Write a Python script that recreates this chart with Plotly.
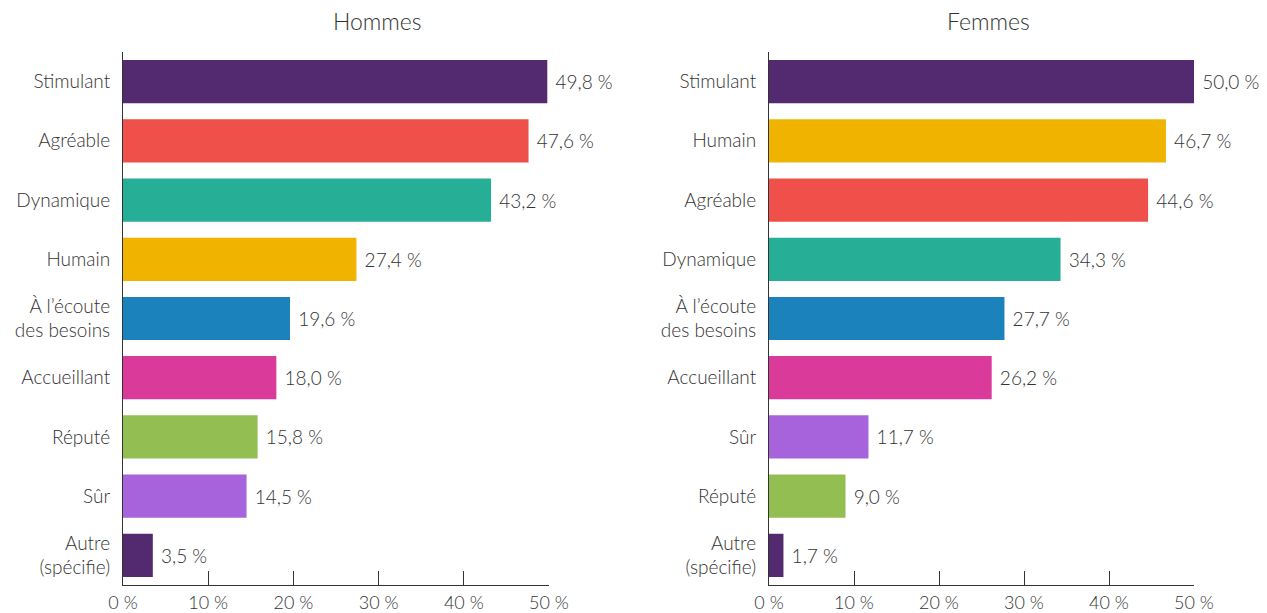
import plotly.graph_objects as go

hommes_cats = ["Stimulant", "Agréable", "Dynamique", "Humain", "À l’écoute<br>des besoins",
               "Accueillant", "Réputé", "Sûr", "Autre<br>(spécifie)"]
hommes_vals = [49.8, 47.6, 43.2, 27.4, 19.6, 18.0, 15.8, 14.5, 3.5]
femmes_cats = ["Stimulant", "Humain", "Agréable", "Dynamique", "À l’écoute<br>des besoins",
               "Accueillant", "Sûr", "Réputé", "Autre<br>(spécifie)"]
femmes_vals = [50.0, 46.7, 44.6, 34.3, 27.7, 26.2, 11.7, 9.0, 1.7]
x_ticks = [0, 10, 20, 30, 40, 50]
x_tick_labels = ["0 %", "10 %", "20 %", "30 %", "40 %", "50 %"]

color_map = {
    "Stimulant": "#532A6F",
    "Agréable": "#F0504A",
    "Dynamique": "#27AE96",
    "Humain": "#F0B400",
    "À l’écoute<br>des besoins": "#1C82BC",
    "Accueillant": "#DA3B9B",
    "Réputé": "#93BE52",
    "Sûr": "#A763DC",
    "Autre<br>(spécifie)": "#532A6F",
}

FONT = "Lato"
W = 300
TXT = "#333333"
FW, FH = 1259, 605   # page body has an 8px margin

def fmt(v):
    return "\u00a0" + f"{v:.1f}".replace(".", ",") + "\u00a0%"

fig = go.Figure()
for cats, vals, xa, ya in [(hommes_cats, hommes_vals, "x", "y"),
                           (femmes_cats, femmes_vals, "x2", "y2")]:
    fig.add_trace(go.Bar(
        x=vals, y=list(range(len(cats))), orientation="h",
        marker=dict(color=[color_map[c] for c in cats], line=dict(width=0)),
        text=[fmt(v) for v in vals], textposition="outside",
        textfont=dict(family=FONT, size=19, color=TXT, weight=W),
        cliponaxis=False, xaxis=xa, yaxis=ya, width=0.73,
        hoverinfo="skip", showlegend=False,
    ))

ydom = [28 / FH, (FH - 44) / FH]
common_x = dict(range=[0, 50], tickvals=x_ticks, ticktext=x_tick_labels,
                ticks="inside", ticklen=14, tickcolor="#333", tickwidth=1,
                showline=True, linecolor="#333", linewidth=1, showgrid=False,
                zeroline=False, tickfont=dict(family=FONT, size=18, color=TXT, weight=W),
                ticklabelstandoff=1, fixedrange=True, automargin=False)

def ycommon(cats):
    return dict(range=[len(cats) - 0.5, -0.5], tickvals=list(range(len(cats))),
                ticktext=cats, showline=True, linecolor="#333", linewidth=1,
                showgrid=False, zeroline=False, ticks="",
                tickfont=dict(family=FONT, size=19, color=TXT, weight=W),
                ticklabelstandoff=8, domain=ydom, fixedrange=True, automargin=False)

fig.update_layout(
    width=FW, height=FH,
    margin=dict(l=0, r=0, t=0, b=0),
    paper_bgcolor="white", plot_bgcolor="white",
    xaxis=dict(domain=[115 / FW, 541 / FW], anchor="y", **common_x),
    xaxis2=dict(domain=[761 / FW, 1186 / FW], anchor="y2", **common_x),
    yaxis=dict(anchor="x", **ycommon(hommes_cats)),
    yaxis2=dict(anchor="x2", **ycommon(femmes_cats)),
    bargap=0.27,
    font=dict(family=FONT, color=TXT, weight=W),
    annotations=[
        dict(text="Hommes", x=369 / FW, y=1 - 13 / FH, xref="paper", yref="paper",
             showarrow=False, xanchor="center", yanchor="middle",
             font=dict(family=FONT, size=23, color=TXT, weight=W)),
        dict(text="Femmes", x=980 / FW, y=1 - 13 / FH, xref="paper", yref="paper",
             showarrow=False, xanchor="center", yanchor="middle",
             font=dict(family=FONT, size=23, color=TXT, weight=W)),
    ],
)

fig.write_html("out.html")
